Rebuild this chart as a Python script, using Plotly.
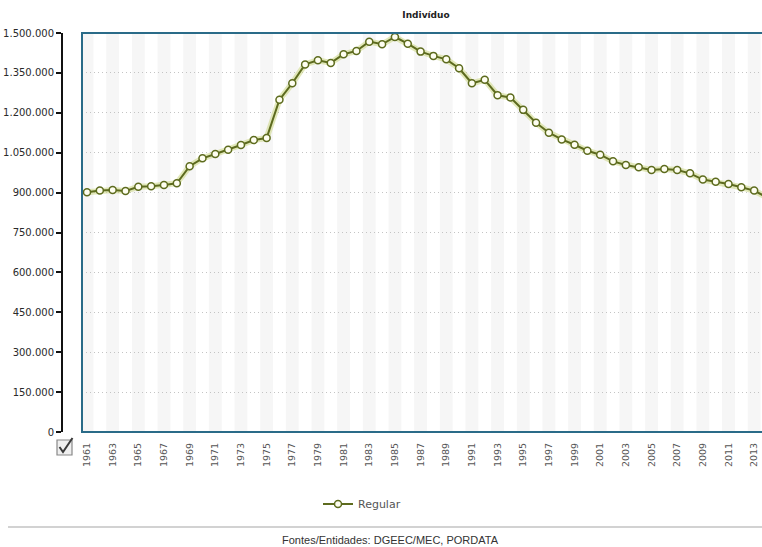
import plotly.graph_objects as go

# Alunos matriculados (ensino regular), por ano
years = list(range(1961, 2015))
regular = [
    901000, 907500, 910000, 906000, 922000, 924000, 929000, 935000, 999000, 1029000,
    1045000, 1061000, 1079000, 1097500, 1105000, 1249000, 1311000, 1382000, 1397500, 1387500,
    1420000, 1432500, 1467500, 1457500, 1485000, 1460000, 1430000, 1414000, 1401000, 1367500,
    1311000, 1324000, 1266000, 1257500, 1211000, 1162500, 1125000, 1100000, 1080000, 1057500,
    1042500, 1017500, 1004000, 995000, 985000, 989000, 985000, 972500, 949000, 941000,
    932500, 920000, 907500, 882000,
]
y_ticks = list(range(0, 1500001, 150000))
x_ticks = list(range(1961, 2014, 2))

title_text = "Indivíduo"
series_name = "Regular"
source_text = "Fontes/Entidades: DGEEC/MEC, PORDATA"

W, H = 762, 547
L, R, T, B = 82, 0, 33, 115
plot_w = W - L - R
plot_h = H - T - B


def px_x(px):
    return (px - L) / plot_w


def px_y(py):
    return (H - B - py) / plot_h


line_col = "#5d6b1e"
glow_col = "rgba(200,212,120,0.5)"
border_col = "#2a6b88"

fig = go.Figure()

# soft halo under the series line
fig.add_trace(go.Scatter(
    x=years, y=regular, mode="lines",
    line=dict(color=glow_col, width=6),
    hoverinfo="skip", showlegend=False,
))
fig.add_trace(go.Scatter(
    x=years, y=regular, mode="lines+markers", name=series_name,
    line=dict(color=line_col, width=2),
    marker=dict(size=7, color="#fefef0", line=dict(color=line_col, width=1.5)),
))

shapes = []
# alternating vertical bands, one per odd year
for yr in x_ticks:
    shapes.append(dict(
        type="rect", xref="x", yref="paper", x0=yr - 0.5, x1=yr + 0.5, y0=0, y1=1,
        fillcolor="#f6f6f6", line=dict(width=0), layer="below",
    ))
# plot frame (open on the right)
shapes.append(dict(
    type="rect", xref="paper", yref="paper", x0=0, x1=1.2, y0=0, y1=1,
    line=dict(color=border_col, width=2), fillcolor="rgba(0,0,0,0)", layer="above",
))
# checkbox
shapes.append(dict(
    type="rect", xref="paper", yref="paper",
    x0=px_x(57), x1=px_x(72), y0=px_y(455), y1=px_y(440),
    line=dict(color="#888888", width=1.2), fillcolor="#efefef",
))
shapes.append(dict(
    type="path", xref="paper", yref="paper",
    path=(f"M {px_x(59.5)} {px_y(447)} L {px_x(63)} {px_y(452)} "
          f"L {px_x(72.5)} {px_y(438)}"),
    line=dict(color="#3a3a3a", width=2),
))
# separator above the source line
shapes.append(dict(
    type="line", xref="paper", yref="paper",
    x0=px_x(8), x1=px_x(800), y0=px_y(527), y1=px_y(527),
    line=dict(color="#d2d2d2", width=2),
))

fig.update_layout(
    width=W, height=H,
    margin=dict(l=L, r=R, t=T, b=B, pad=0),
    paper_bgcolor="white", plot_bgcolor="white",
    separators=",.",
    font=dict(family="DejaVu Sans", size=10, color="#222222"),
    title=dict(
        text=title_text, x=426 / W, xanchor="center", y=1 - 15 / H, yanchor="middle",
        font=dict(family="DejaVu Sans", size=9, color="#222222", weight="bold"),
    ),
    xaxis=dict(
        range=[1960.61, 1960.61 + plot_w / 12.83],
        tickmode="array", tickvals=x_ticks, ticktext=[str(v) for v in x_ticks],
        tickangle=-90, ticks="", showgrid=False, zeroline=False, showline=False,
        tickfont=dict(family="DejaVu Sans", size=9.5, color="#555555"),
        ticklabelstandoff=8,
    ),
    yaxis=dict(
        range=[0, 1500000], tickmode="array", tickvals=y_ticks,
        tickformat=",d",
        anchor="free", position=0, shift=-20,
        showline=True, linecolor="#111111", linewidth=2,
        ticks="outside", ticklen=5, tickwidth=2, tickcolor="#111111",
        showgrid=True, gridcolor="#c4c4c4", griddash="1px,3px", gridwidth=1,
        zeroline=False,
        tickfont=dict(family="DejaVu Sans", size=10, color="#2a2a2a"),
    ),
    showlegend=True,
    legend=dict(
        orientation="h", xref="container", yref="container",
        x=318 / W, xanchor="left", y=1 - 504 / H, yanchor="middle",
        font=dict(family="DejaVu Sans", size=11, color="#555555"),
        bgcolor="rgba(0,0,0,0)",
    ),
    shapes=shapes,
    annotations=[dict(
        text=source_text, xref="paper", yref="paper",
        x=px_x(390), y=px_y(540), xanchor="center", yanchor="middle", showarrow=False,
        font=dict(family="Liberation Sans", size=11, color="#333333"),
    )],
)

fig.write_html("out.html")
